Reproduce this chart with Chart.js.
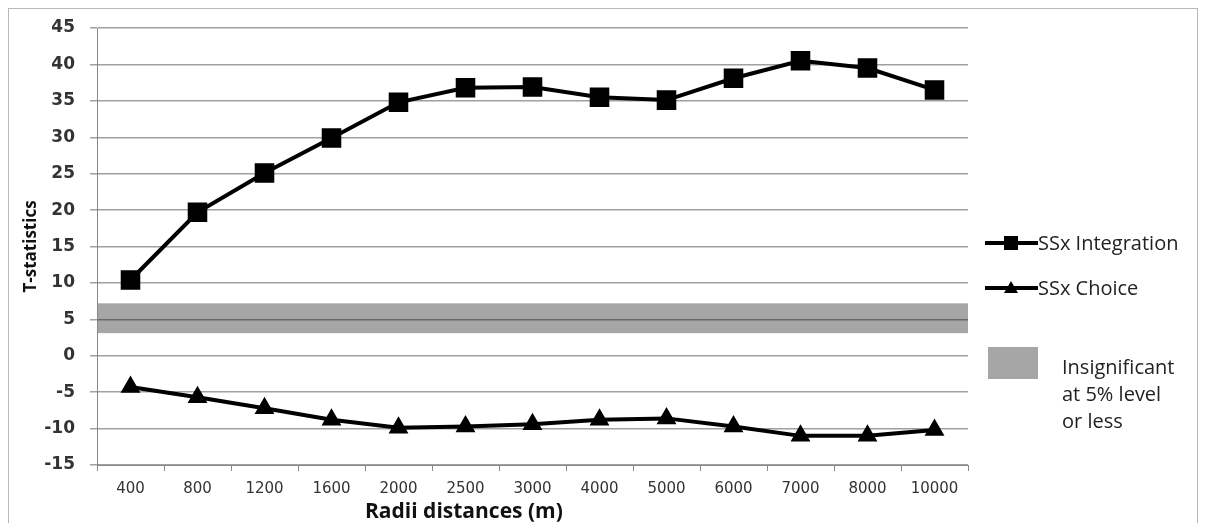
<!DOCTYPE html>
<html>
<head>
<meta charset="utf-8">
<script src="https://cdn.jsdelivr.net/npm/chart.js@4"></script>
<style>
  html, body { margin: 0; padding: 0; background: #fff; }
  body { width: 1206px; height: 523px; position: relative; overflow: hidden; font-family: "Open Sans", sans-serif; }
  #frame { position: absolute; left: 8px; top: 8px; width: 1190px; height: 530px; border: 1px solid #b8b8b8; box-sizing: border-box; }
  #wrap { position: absolute; left: 0; top: 0; width: 1206px; height: 523px; }
  .legend { position: absolute; color: #222; font-size: 20px; }
  .legend svg { position: absolute; left: 0; top: 0; }
  .legend span { position: absolute; white-space: nowrap; line-height: 24px; }
  #xtitle { position: absolute; left: 365px; top: 498px; line-height: 24px; font-size: 21px; font-weight: bold; color: #111; white-space: nowrap; }
</style>
</head>
<body>
<div id="frame"></div>
<div id="wrap"><canvas id="chart" width="1206" height="523"></canvas></div>
<div id="xtitle">Radii distances (m)</div>

<div class="legend" style="left:984px; top:231px; width:220px; height:24px;">
  <svg width="56" height="24"><line x1="1" y1="12" x2="54" y2="12" stroke="#000" stroke-width="4"/><rect x="20" y="5" width="14" height="14" fill="#000"/></svg>
  <span style="left:54px; top:0;">SSx Integration</span>
</div>
<div class="legend" style="left:984px; top:276px; width:220px; height:24px;">
  <svg width="56" height="24"><line x1="1" y1="12" x2="54" y2="12" stroke="#000" stroke-width="4"/><polygon points="27,5 34,17 20,17" fill="#000"/></svg>
  <span style="left:54px; top:0;">SSx Choice</span>
</div>
<div class="legend" style="left:988px; top:347px; width:216px; height:90px;">
  <div style="position:absolute; left:0; top:0; width:50px; height:32px; background:#a6a6a6;"></div>
  <span style="left:74px; top:6px; line-height:27px;">Insignificant<br>at 5% level<br>or less</span>
</div>

<script>
// Radii (categories) and T-statistics
const radii = ['400', '800', '1200', '1600', '2000', '2500', '3000', '4000', '5000', '6000', '7000', '8000', '10000'];
const integration = [10.4, 19.7, 25.1, 29.9, 34.8, 36.8, 36.9, 35.5, 35.1, 38.1, 40.5, 39.5, 36.5];
const choice = [-4.3, -5.7, -7.2, -8.8, -9.9, -9.7, -9.4, -8.8, -8.6, -9.7, -11.0, -11.0, -10.2];

// Insignificant band limits
const bandLow = 3.1;
const bandHigh = 7.2;

const yMin = -15;
const yMax = 45;
const yStep = 5;

// Shade the band between the two limits, under the lines
const bandPlugin = {
    id: 'band',
    beforeDatasetsDraw(chart) {
        const { ctx, chartArea, scales } = chart;
        const top = scales.y.getPixelForValue(bandHigh);
        const bottom = scales.y.getPixelForValue(bandLow);
        ctx.save();
        ctx.fillStyle = 'rgba(0,0,0,0.35)';
        ctx.fillRect(chartArea.left + 1, top, chartArea.right - chartArea.left - 1, bottom - top);
        ctx.restore();
    }
};

const ctx = document.getElementById('chart').getContext('2d');
new Chart(ctx, {
    type: 'line',
    data: {
        labels: radii,
        datasets: [
            {
                label: 'SSx Integration',
                data: integration,
                borderColor: '#000',
                backgroundColor: '#000',
                borderWidth: 4,
                pointStyle: 'rect',
                pointRadius: 11,
                tension: 0
            },
            {
                label: 'SSx Choice',
                data: choice,
                borderColor: '#000',
                backgroundColor: '#000',
                borderWidth: 4,
                pointStyle: 'triangle',
                pointRadius: 7.5,
                tension: 0
            }
        ]
    },
    options: {
        responsive: false,
        animation: false,
        layout: { padding: { left: 21, top: 28, right: 238, bottom: 0 } },
        plugins: {
            legend: { display: false },
            tooltip: { enabled: false }
        },
        scales: {
            x: {
                offset: true,
                grid: { drawOnChartArea: false, offset: true, tickLength: 6, color: '#888' },
                border: { color: '#888' },
                ticks: { color: '#333', font: { family: 'DejaVu Sans', size: 15 }, padding: 9, maxRotation: 0 },
                afterFit(scale) { scale.height = 58; }
            },
            y: {
                min: yMin,
                max: yMax,
                ticks: { stepSize: yStep, color: '#333', font: { family: 'DejaVu Sans', size: 17, weight: 'bold' }, padding: 15 },
                grid: { color: '#a0a0a0', lineWidth: 1.5, tickLength: 7 },
                border: { color: '#888' },
                title: {
                    display: true,
                    text: 'T-statistics',
                    color: '#111',
                    font: { family: 'Open Sans', size: 17, weight: 'bold' },
                    padding: { top: 0, bottom: 0 }
                },
                afterFit(scale) { scale.width = 76; }
            }
        }
    },
    plugins: [bandPlugin]
});
</script>
</body>
</html>
